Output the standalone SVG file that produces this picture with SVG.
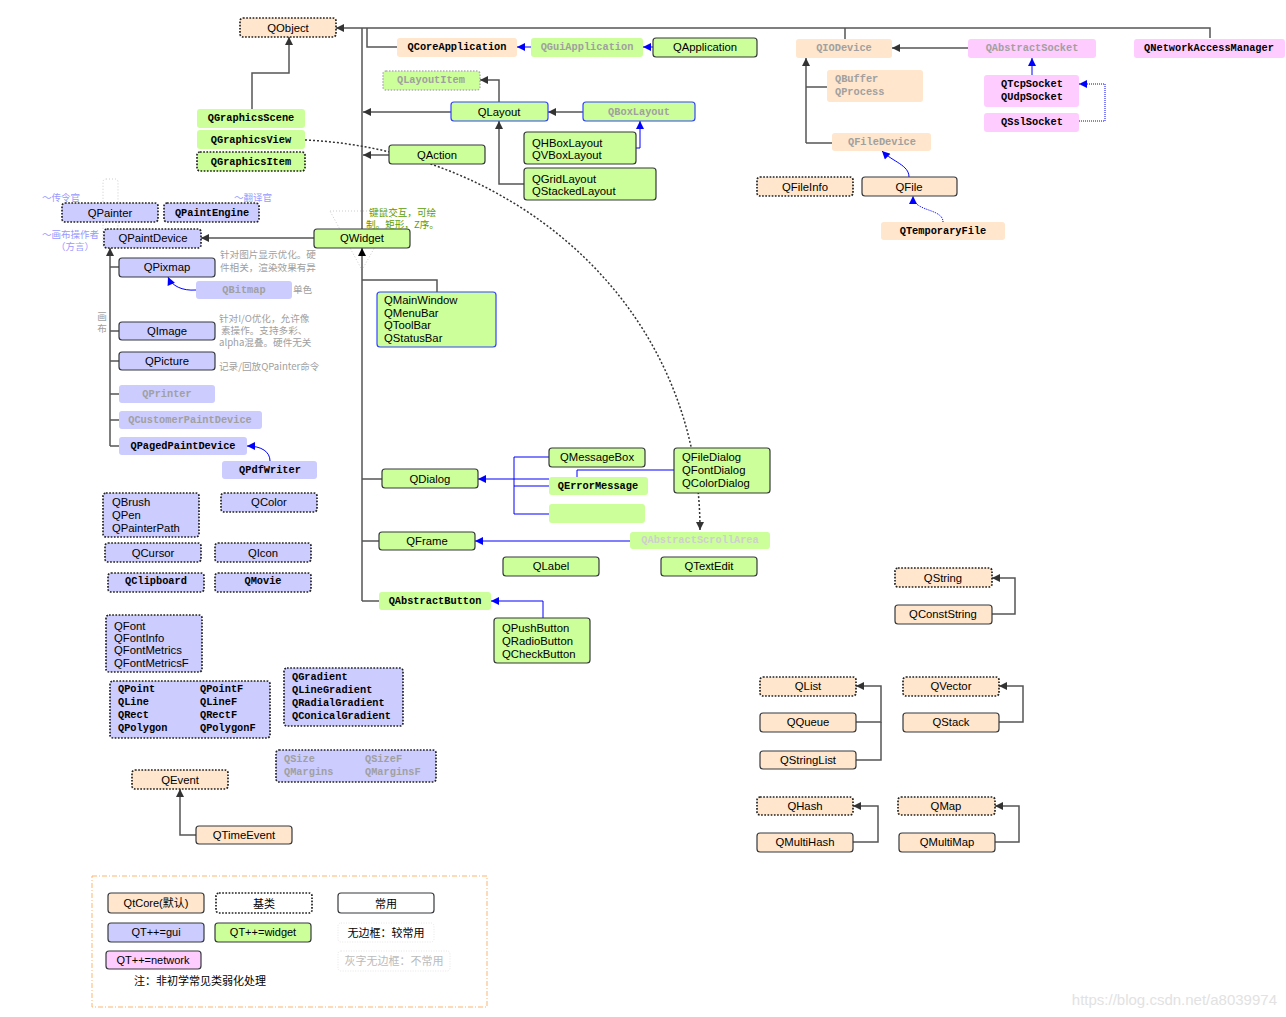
<svg xmlns="http://www.w3.org/2000/svg" width="1286" height="1017" viewBox="0 0 1286 1017">
<defs>
<marker id="ad" viewBox="0 0 10 10" refX="10" refY="5" markerWidth="11" markerHeight="8" markerUnits="userSpaceOnUse" orient="auto"><path d="M0,0 L10,5 L0,10 Z" fill="#333"/></marker>
<marker id="ak" viewBox="0 0 10 10" refX="10" refY="5" markerWidth="11" markerHeight="8" markerUnits="userSpaceOnUse" orient="auto"><path d="M0,0 L10,5 L0,10 Z" fill="#000"/></marker>
<marker id="ab" viewBox="0 0 10 10" refX="10" refY="5" markerWidth="11" markerHeight="8" markerUnits="userSpaceOnUse" orient="auto"><path d="M0,0 L10,5 L0,10 Z" fill="#00f"/></marker>
</defs>
<style>
text{dominant-baseline:central}
.s{font-family:"Liberation Sans","Noto Sans CJK SC",sans-serif;font-size:11.3px;fill:#000}
.m{font-family:"Liberation Mono",monospace;font-weight:bold;font-size:10.3px;fill:#000}
.gt{fill:#a0a0a0}
.lt{fill:#cfcfcf}
.c{text-anchor:middle}
.pe{fill:#FFE6CC}
.gr{fill:#CCFF99}
.pu{fill:#CCCCFF}
.pk{fill:#FFCCFF}
.wh{fill:#fff}
.b{stroke:#36393d;stroke-width:1.2}
.d{stroke:#222;stroke-width:1.7;stroke-dasharray:1.7 1.5}
.dg{stroke:#b0b0b0;stroke-width:1.5;stroke-dasharray:1.5 1.5}
.bb{stroke:#3344ff;stroke-width:1.2}
.fz{stroke:#e6e6e6;stroke-width:1;stroke-dasharray:1 1.5}
.ln{fill:none;stroke:#555;stroke-width:1.5}
.lb{fill:none;stroke:#00f;stroke-width:1}
.note{font-family:"Noto Sans CJK SC","Liberation Sans",sans-serif;font-size:9.6px;fill:#a0a0a0}
.pn{font-family:"Noto Sans CJK SC","Liberation Sans",sans-serif;font-size:9.5px;fill:#9999ff}
.gn{font-family:"Noto Sans CJK SC","Liberation Sans",sans-serif;font-size:9.6px;fill:#5a9e00}
.lg{font-family:"Liberation Sans","Noto Sans CJK SC",sans-serif;font-size:11px;fill:#000}
</style>
<rect width="1286" height="1017" fill="#fff"/>

<g id="decor" fill="none">
<rect x="103" y="179" width="15" height="69" rx="3" stroke="#cccccc" stroke-width="1" stroke-dasharray="1 2"/>
<path d="M330,211 L395,211 L362,270 Z" stroke="#cccccc" stroke-width="1" stroke-dasharray="1 2"/>
<rect x="92" y="876" width="395" height="131" stroke="#FFB570" stroke-width="1" stroke-dasharray="5 2 1 2"/>
</g>

<g id="connectors">
<path class="ln" d="M1210,38 V28 H336" stroke="#444" stroke-width="2" marker-end="url(#ad)"/>
<path class="ln" d="M845,39 V28"/>
<path class="ln" d="M397,47 H367 V28" stroke-width="1.2"/>
<path class="ln" d="M362,229 V28" stroke="#808080"/>
<path class="ln" d="M252,109 V73 H289 V37" marker-end="url(#ad)"/>
<path class="ln" d="M499,102 V80 H480" marker-end="url(#ad)"/>
<path class="ln" d="M451,112 H363" marker-end="url(#ad)"/>
<path class="ln" d="M583,112 H548" marker-end="url(#ad)"/>
<path class="ln" d="M524,184 H499 V121" marker-end="url(#ad)"/>
<path class="ln" d="M389,155 H363" marker-end="url(#ad)"/>
<path class="ln" d="M314,238 H201" marker-end="url(#ad)"/>
<path class="ln" d="M362,601 V248" stroke="#111" marker-end="url(#ak)"/>
<path class="ln" d="M362,280 H437 V292 M362,479 H382 M362,541 H379 M362,601 H379" stroke="#666"/>
<path class="ln" d="M110,446 V248" marker-end="url(#ad)"/>
<path class="ln" d="M110,267 H119 M110,331 H119 M110,361 H119 M110,394 H119 M110,420 H119 M110,446 H119"/>
<path class="ln" d="M196,835 H180 V789" marker-end="url(#ad)"/>
<path class="ln" d="M806,143 V58" marker-end="url(#ad)"/>
<path class="ln" d="M806,87 H827 M806,143 H832" stroke="#777"/>
<path class="ln" d="M968,48 H892" marker-end="url(#ad)"/>
<path class="ln" d="M992,614 H1015 V578 H992" stroke="#777" marker-end="url(#ad)"/>
<path class="ln" d="M856,722 H881 V686 H856" stroke="#777" marker-end="url(#ad)"/>
<path class="ln" d="M856,760 H881 V722" stroke="#777"/>
<path class="ln" d="M999,722 H1023 V686 H999" stroke="#777" marker-end="url(#ad)"/>
<path class="ln" d="M853,842 H878 V806 H853" stroke="#777" marker-end="url(#ad)"/>
<path class="ln" d="M995,842 H1019 V806 H995" stroke="#777" marker-end="url(#ad)"/>
<path d="M305,140 C520,150 700,310 700,530" fill="none" stroke="#333" stroke-width="1.5" stroke-dasharray="2 2" marker-end="url(#ad)"/>

<path class="lb" d="M531,47 H517" marker-end="url(#ab)"/>
<path class="lb" d="M653,47 H643" marker-end="url(#ab)"/>
<path class="lb" d="M636,148 H640 V121" stroke-width="1.5" marker-end="url(#ab)"/>
<path class="lb" d="M196,290 C182,291 172,286 168,277" marker-end="url(#ab)"/>
<path class="lb" d="M270,461 C270,452 262,446 247,446" marker-end="url(#ab)"/>
<path class="lb" d="M1032,75 V58" stroke-width="1.5" marker-end="url(#ab)"/>
<path class="lb" d="M1079,121 H1105 V84 H1079" stroke="#7777ff" stroke-dasharray="1 1" marker-end="url(#ab)"/>
<path class="lb" d="M909,177 C909,165 893,162 882,151" stroke="#4444ff" marker-end="url(#ab)"/>
<path class="lb" d="M943,222 C943,208 913,212 913,196" stroke="#7777ff" stroke-dasharray="1 1" marker-end="url(#ab)"/>
<path class="lb" d="M514,479 H478" stroke-width="2" marker-end="url(#ab)"/>
<path class="lb" d="M549,457 H514 V514 H549"/>
<path class="lb" d="M549,479 H514 M549,486 H514" stroke="#7777ff"/>
<path class="lb" d="M674,470 H577 V486"/>
<path class="lb" d="M630,541 H475" marker-end="url(#ab)"/>
<path class="lb" d="M543,618 V601 H491" marker-end="url(#ab)"/>
</g>

<g id="n-QObject"><rect x="240" y="18" width="96" height="19" rx="3" class="pe d"/><text x="288" y="28" class="s c" font-size="12">QObject</text></g>
<g id="n-QCoreApplication"><rect x="397" y="38" width="120" height="19" rx="3" class="pe"/><text x="457" y="47" class="m c">QCoreApplication</text></g>
<g id="n-QGuiApplication"><rect x="531" y="38" width="112" height="19" rx="3" class="gr"/><text x="587" y="47" class="m c gt">QGuiApplication</text></g>
<g id="n-QApplication"><rect x="653" y="38" width="104" height="19" rx="3" class="gr b"/><text x="705" y="47" class="s c">QApplication</text></g>
<g id="n-QLayoutItem"><rect x="383" y="71" width="97" height="19" rx="3" class="gr dg"/><text x="431" y="80" class="m c gt">QLayoutItem</text></g>
<g id="n-QLayout"><rect x="451" y="102" width="97" height="19" rx="3" class="gr bb"/><text x="499" y="112" class="s c">QLayout</text></g>
<g id="n-QBoxLayout"><rect x="583" y="102" width="112" height="19" rx="3" class="gr bb"/><text x="639" y="112" class="m c gt">QBoxLayout</text></g>
<g id="n-QHBoxLayout"><rect x="524" y="132" width="112" height="32" rx="3" class="gr b"/><text x="532" y="143" class="s">QHBoxLayout</text><text x="532" y="155" class="s">QVBoxLayout</text></g>
<g id="n-QGridLayout"><rect x="524" y="168" width="132" height="32" rx="3" class="gr b"/><text x="532" y="179" class="s">QGridLayout</text><text x="532" y="191" class="s">QStackedLayout</text></g>
<g id="n-QAction"><rect x="389" y="145" width="96" height="19" rx="3" class="gr b"/><text x="437" y="155" class="s c">QAction</text></g>
<g id="n-QGraphicsScene"><rect x="197" y="109" width="108" height="19" rx="3" class="gr"/><text x="251" y="118" class="m c">QGraphicsScene</text></g>
<g id="n-QGraphicsView"><rect x="197" y="130" width="108" height="19" rx="3" class="gr"/><text x="251" y="140" class="m c">QGraphicsView</text></g>
<g id="n-QGraphicsItem"><rect x="197" y="152" width="108" height="19" rx="3" class="gr d"/><text x="251" y="162" class="m c">QGraphicsItem</text></g>
<g id="n-QPainter"><rect x="62" y="203" width="96" height="19" rx="3" class="pu d"/><text x="110" y="213" class="s c">QPainter</text></g>
<g id="n-QPaintEngine"><rect x="164" y="203" width="95" height="19" rx="3" class="pu d"/><text x="212" y="213" class="m c">QPaintEngine</text></g>
<g id="n-QPaintDevice"><rect x="104" y="229" width="97" height="19" rx="3" class="pu d"/><text x="153" y="238" class="s c">QPaintDevice</text></g>
<g id="n-QWidget"><rect x="314" y="229" width="96" height="19" rx="3" class="gr b"/><text x="362" y="238" class="s c">QWidget</text></g>
<g id="n-QPixmap"><rect x="119" y="258" width="96" height="19" rx="3" class="pu b"/><text x="167" y="267" class="s c">QPixmap</text></g>
<g id="n-QBitmap"><rect x="196" y="281" width="96" height="18" rx="3" class="pu"/><text x="244" y="290" class="m c gt">QBitmap</text></g>
<g id="n-QImage"><rect x="119" y="322" width="96" height="18" rx="3" class="pu b"/><text x="167" y="331" class="s c">QImage</text></g>
<g id="n-QPicture"><rect x="119" y="352" width="96" height="18" rx="3" class="pu b"/><text x="167" y="361" class="s c">QPicture</text></g>
<g id="n-QPrinter"><rect x="119" y="385" width="96" height="18" rx="3" class="pu"/><text x="167" y="394" class="m c gt">QPrinter</text></g>
<g id="n-QCustomerPaintDevice"><rect x="119" y="411" width="143" height="18" rx="3" class="pu"/><text x="190" y="420" class="m c gt">QCustomerPaintDevice</text></g>
<g id="n-QPagedPaintDevice"><rect x="119" y="437" width="128" height="18" rx="3" class="pu"/><text x="183" y="446" class="m c">QPagedPaintDevice</text></g>
<g id="n-QPdfWriter"><rect x="222" y="461" width="95" height="18" rx="3" class="pu"/><text x="270" y="470" class="m c">QPdfWriter</text></g>
<g id="n-QMainWindow"><rect x="377" y="292" width="119" height="55" rx="3" class="gr bb"/><text x="384" y="300" class="s">QMainWindow</text><text x="384" y="313" class="s">QMenuBar</text><text x="384" y="325" class="s">QToolBar</text><text x="384" y="338" class="s">QStatusBar</text></g>
<g id="n-QDialog"><rect x="382" y="469" width="96" height="19" rx="3" class="gr b"/><text x="430" y="479" class="s c">QDialog</text></g>
<g id="n-QMessageBox"><rect x="549" y="448" width="96" height="19" rx="3" class="gr b"/><text x="597" y="457" class="s c">QMessageBox</text></g>
<g id="n-QErrorMessage"><rect x="549" y="477" width="99" height="18" rx="3" class="gr"/><text x="598" y="486" class="m c">QErrorMessage</text></g>
<g id="n-empty"><rect x="549" y="504" width="96" height="19" rx="3" class="gr"/></g>
<g id="n-QFileDialog"><rect x="674" y="448" width="96" height="45" rx="3" class="gr b"/><text x="682" y="457" class="s">QFileDialog</text><text x="682" y="470" class="s">QFontDialog</text><text x="682" y="483" class="s">QColorDialog</text></g>
<g id="n-QFrame"><rect x="379" y="532" width="96" height="18" rx="3" class="gr b"/><text x="427" y="541" class="s c">QFrame</text></g>
<g id="n-QAbstractScrollArea"><rect x="630" y="532" width="140" height="17" rx="3" class="gr"/><text x="700" y="540" class="m c lt">QAbstractScrollArea</text></g>
<g id="n-QLabel"><rect x="503" y="557" width="96" height="19" rx="3" class="gr b"/><text x="551" y="566" class="s c">QLabel</text></g>
<g id="n-QTextEdit"><rect x="661" y="557" width="96" height="19" rx="3" class="gr b"/><text x="709" y="566" class="s c">QTextEdit</text></g>
<g id="n-QAbstractButton"><rect x="379" y="592" width="112" height="18" rx="3" class="gr"/><text x="435" y="601" class="m c">QAbstractButton</text></g>
<g id="n-QPushButton"><rect x="494" y="618" width="96" height="45" rx="3" class="gr b"/><text x="502" y="628" class="s">QPushButton</text><text x="502" y="641" class="s">QRadioButton</text><text x="502" y="654" class="s">QCheckButton</text></g>
<g id="n-QBrush"><rect x="103" y="493" width="96" height="44" rx="3" class="pu d"/><text x="112" y="502" class="s">QBrush</text><text x="112" y="515" class="s">QPen</text><text x="112" y="528" class="s">QPainterPath</text></g>
<g id="n-QColor"><rect x="221" y="493" width="96" height="19" rx="3" class="pu d"/><text x="269" y="502" class="s c">QColor</text></g>
<g id="n-QCursor"><rect x="105" y="543" width="96" height="19" rx="3" class="pu d"/><text x="153" y="553" class="s c">QCursor</text></g>
<g id="n-QIcon"><rect x="215" y="543" width="96" height="19" rx="3" class="pu d"/><text x="263" y="553" class="s c">QIcon</text></g>
<g id="n-QClipboard"><rect x="108" y="573" width="96" height="19" rx="3" class="pu d"/><text x="156" y="581" class="m c">QClipboard</text></g>
<g id="n-QMovie"><rect x="215" y="573" width="96" height="19" rx="3" class="pu d"/><text x="263" y="581" class="m c">QMovie</text></g>
<g id="n-QFont"><rect x="106" y="615" width="96" height="57" rx="3" class="pu d"/><text x="114" y="626" class="s">QFont</text><text x="114" y="638" class="s">QFontInfo</text><text x="114" y="650" class="s">QFontMetrics</text><text x="114" y="663" class="s">QFontMetricsF</text></g>
<g id="n-QPoint"><rect x="110" y="681" width="160" height="57" rx="3" class="pu d"/>
<text x="118" y="689" class="m">QPoint</text><text x="200" y="689" class="m">QPointF</text>
<text x="118" y="702" class="m">QLine</text><text x="200" y="702" class="m">QLineF</text>
<text x="118" y="715" class="m">QRect</text><text x="200" y="715" class="m">QRectF</text>
<text x="118" y="728" class="m">QPolygon</text><text x="200" y="728" class="m">QPolygonF</text></g>
<g id="n-QGradient"><rect x="284" y="668" width="119" height="58" rx="3" class="pu d"/><text x="292" y="677" class="m">QGradient</text><text x="292" y="690" class="m">QLineGradient</text><text x="292" y="703" class="m">QRadialGradient</text><text x="292" y="716" class="m">QConicalGradient</text></g>
<g id="n-QSize"><rect x="276" y="750" width="160" height="32" rx="3" class="pu d"/><text x="284" y="759" class="m gt">QSize</text><text x="365" y="759" class="m gt">QSizeF</text><text x="284" y="772" class="m gt">QMargins</text><text x="365" y="772" class="m gt">QMarginsF</text></g>
<g id="n-QEvent"><rect x="132" y="770" width="96" height="19" rx="3" class="pe d"/><text x="180" y="780" class="s c">QEvent</text></g>
<g id="n-QTimeEvent"><rect x="196" y="826" width="96" height="18" rx="3" class="pe b"/><text x="244" y="835" class="s c">QTimeEvent</text></g>
<g id="n-QIODevice"><rect x="796" y="39" width="96" height="19" rx="3" class="pe"/><text x="844" y="48" class="m c gt">QIODevice</text></g>
<g id="n-QAbstractSocket"><rect x="968" y="39" width="128" height="19" rx="3" class="pk"/><text x="1032" y="48" class="m c gt">QAbstractSocket</text></g>
<g id="n-QNetworkAccessManager"><rect x="1134" y="39" width="151" height="19" rx="3" class="pk"/><text x="1209" y="48" class="m c">QNetworkAccessManager</text></g>
<g id="n-QBuffer"><rect x="827" y="70" width="96" height="32" rx="3" class="pe"/><text x="835" y="79" class="m gt">QBuffer</text><text x="835" y="92" class="m gt">QProcess</text></g>
<g id="n-QTcpSocket"><rect x="984" y="75" width="95" height="32" rx="3" class="pk"/><text x="1032" y="84" class="m c">QTcpSocket</text><text x="1032" y="97" class="m c">QUdpSocket</text></g>
<g id="n-QSslSocket"><rect x="984" y="113" width="95" height="19" rx="3" class="pk"/><text x="1032" y="122" class="m c">QSslSocket</text></g>
<g id="n-QFileDevice"><rect x="832" y="133" width="99" height="18" rx="3" class="pe"/><text x="882" y="142" class="m c gt">QFileDevice</text></g>
<g id="n-QFileInfo"><rect x="757" y="177" width="96" height="19" rx="3" class="pe d"/><text x="805" y="187" class="s c">QFileInfo</text></g>
<g id="n-QFile"><rect x="862" y="177" width="95" height="19" rx="3" class="pe b"/><text x="909" y="187" class="s c">QFile</text></g>
<g id="n-QTemporaryFile"><rect x="881" y="222" width="124" height="18" rx="3" class="pe"/><text x="943" y="231" class="m c">QTemporaryFile</text></g>
<g id="n-QString"><rect x="895" y="568" width="97" height="19" rx="3" class="pe d"/><text x="943" y="578" class="s c">QString</text></g>
<g id="n-QConstString"><rect x="895" y="605" width="97" height="19" rx="3" class="pe b"/><text x="943" y="614" class="s c">QConstString</text></g>
<g id="n-QList"><rect x="760" y="677" width="96" height="19" rx="3" class="pe d"/><text x="808" y="686" class="s c">QList</text></g>
<g id="n-QQueue"><rect x="760" y="713" width="96" height="19" rx="3" class="pe b"/><text x="808" y="722" class="s c">QQueue</text></g>
<g id="n-QStringList"><rect x="760" y="751" width="96" height="18" rx="3" class="pe b"/><text x="808" y="760" class="s c">QStringList</text></g>
<g id="n-QVector"><rect x="903" y="677" width="96" height="19" rx="3" class="pe d"/><text x="951" y="686" class="s c">QVector</text></g>
<g id="n-QStack"><rect x="903" y="713" width="96" height="19" rx="3" class="pe b"/><text x="951" y="722" class="s c">QStack</text></g>
<g id="n-QHash"><rect x="757" y="797" width="96" height="18" rx="3" class="pe d"/><text x="805" y="806" class="s c">QHash</text></g>
<g id="n-QMultiHash"><rect x="757" y="833" width="96" height="19" rx="3" class="pe b"/><text x="805" y="842" class="s c">QMultiHash</text></g>
<g id="n-QMap"><rect x="898" y="797" width="97" height="18" rx="3" class="pe d"/><text x="946" y="806" class="s c">QMap</text></g>
<g id="n-QMultiMap"><rect x="899" y="833" width="96" height="19" rx="3" class="pe b"/><text x="947" y="842" class="s c">QMultiMap</text></g>

<g id="annotations">
<text x="42" y="197" class="pn">〜传令官</text>
<text x="234" y="197" class="pn">〜翻译官</text>
<text x="42" y="234" class="pn">〜画布操作者</text>
<text x="56" y="246" class="pn">（方言）</text>
<text x="369" y="212" class="gn">键鼠交互，可绘</text>
<text x="366" y="224" class="gn">制。矩形，Z序。</text>
<text x="220" y="254" class="note">针对图片显示优化。硬</text>
<text x="220" y="267" class="note">件相关，渲染效果有异</text>
<text x="293" y="289" class="note">单色</text>
<text x="219" y="318" class="note">针对I/O优化，允许像</text>
<text x="221" y="330" class="note">素操作。支持多彩、</text>
<text x="219" y="342" class="note">alpha混叠。硬件无关</text>
<text x="219" y="366" class="note">记录/回放QPainter命令</text>
<text x="102" y="316" class="note c">画</text>
<text x="102" y="328" class="note c">布</text>
</g>

<g id="legend">
<g id="lg-core"><rect x="108" y="893" width="96" height="20" rx="3" class="pe b"/><text x="156" y="903" class="lg c">QtCore(默认)</text></g>
<g id="lg-base"><rect x="216" y="893" width="96" height="20" rx="3" class="wh d"/><text x="264" y="904" class="lg c">基类</text></g>
<g id="lg-common"><rect x="338" y="893" width="96" height="20" rx="3" class="wh b"/><text x="386" y="904" class="lg c">常用</text></g>
<g id="lg-gui"><rect x="108" y="923" width="96" height="19" rx="3" class="pu b"/><text x="156" y="932" class="lg c">QT++=gui</text></g>
<g id="lg-widget"><rect x="215" y="923" width="96" height="19" rx="3" class="gr b"/><text x="263" y="932" class="lg c">QT++=widget</text></g>
<g id="lg-noborder"><rect x="338" y="923" width="96" height="19" rx="3" class="wh fz"/><text x="386" y="933" class="lg c" font-size="10.5">无边框：较常用</text></g>
<g id="lg-network"><rect x="106" y="951" width="95" height="18" rx="3" class="pk b"/><text x="153" y="960" class="lg c">QT++=network</text></g>
<g id="lg-gray"><rect x="338" y="951" width="112" height="20" rx="3" class="wh fz"/><text x="394" y="961" class="lg c" font-size="10.5" fill="#bbbbbb" style="fill:#bbb">灰字无边框：不常用</text></g>
<text x="134" y="981" class="lg" font-size="10.5">注：非初学常见类弱化处理</text>
</g>

<text x="1277" y="999" font-family="Liberation Sans, sans-serif" font-size="15" fill="#e2e2e2" text-anchor="end">https://blog.csdn.net/a8039974</text>
</svg>
